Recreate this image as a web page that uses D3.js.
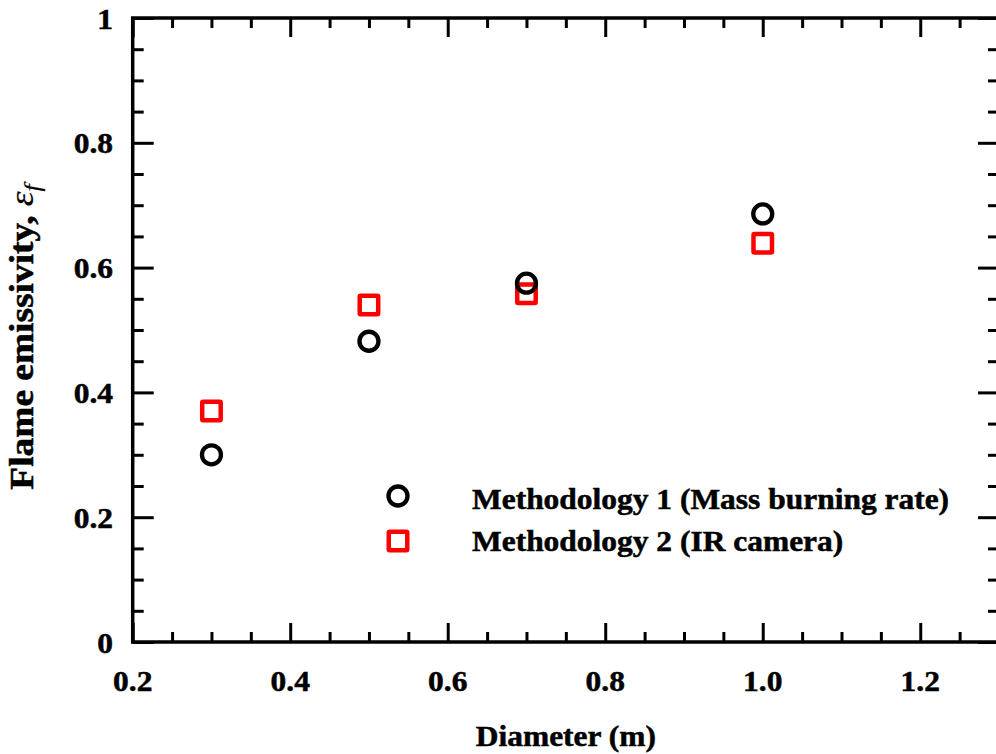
<!DOCTYPE html>
<html>
<head>
<meta charset="utf-8">
<script src="https://cdn.jsdelivr.net/npm/d3@7"></script>
<style>
  html, body { margin: 0; padding: 0; background: #fff; }
  svg { display: block; }
  text { font-family: "Liberation Serif", "Times New Roman", serif; font-weight: bold; fill: #000;
         stroke: #000; stroke-width: 0.5px; }
</style>
</head>
<body>
<svg id="chart" width="996" height="754"></svg>
<script>
// Pool fire diameters (m)
const diameters = [0.3, 0.5, 0.7, 1.0];
// Flame emissivity from the mass burning rate method
const method1 = [0.30, 0.482, 0.575, 0.686];
// Flame emissivity from the IR camera method
const method2 = [0.37, 0.540, 0.558, 0.639];

const seriesNames = ["Methodology 1 (Mass burning rate)", "Methodology 2 (IR camera)"];
const xTickLabels = [0.2, 0.4, 0.6, 0.8, 1.0, 1.2];
const yTickLabels = [0, 0.2, 0.4, 0.6, 0.8, 1];

const plotLeft = 132.7, plotRight = 999, plotTop = 18, plotBottom = 642;
const stretch = 1.085;   // glyphs are set a little wide
const fontPx = 29;

const svg = d3.select("#chart");

const x = d3.scaleLinear().domain([0.2, 1.3]).range([plotLeft, plotRight]);
const y = d3.scaleLinear().domain([0, 1]).range([plotBottom, plotTop]);

const xMinor = d3.range(0.2, 1.3001, 0.05).map(v => +v.toFixed(2));
const yMinor = d3.range(0, 1.0001, 0.05).map(v => +v.toFixed(2));
const isMajor = v => Math.abs(v * 5 - Math.round(v * 5)) < 1e-6;

const axisStroke = 3.5, tickStroke = 3;
const g = svg.append("g");

// Ticks on all four sides, pointing inward
function tickGroup(axis, scale, vals, majorLen, minorLen, transform) {
  const a = axis(scale).tickValues(vals).tickFormat("").tickSizeOuter(0).tickSize(0);
  const gg = g.append("g").attr("transform", transform).call(a);
  gg.select(".domain").remove();
  gg.selectAll(".tick text").remove();
  gg.selectAll(".tick line")
    .attr("stroke", "#000").attr("stroke-width", tickStroke)
    .each(function(d) {
      const len = isMajor(d) ? majorLen : minorLen;
      const sel = d3.select(this);
      if (axis === d3.axisBottom) sel.attr("y1", 0).attr("y2", -len);
      if (axis === d3.axisTop) sel.attr("y1", 0).attr("y2", len);
      if (axis === d3.axisLeft) sel.attr("x1", 0).attr("x2", len);
      if (axis === d3.axisRight) sel.attr("x1", 0).attr("x2", -len);
    });
}
tickGroup(d3.axisBottom, x, xMinor, 19, 10, `translate(0,${plotBottom})`);
tickGroup(d3.axisTop, x, xMinor, 19, 10, `translate(0,${plotTop})`);
tickGroup(d3.axisLeft, y, yMinor, 21, 11, `translate(${plotLeft},0)`);
tickGroup(d3.axisRight, y, yMinor, 21, 11, `translate(${plotRight},0)`);

// Frame
g.append("rect")
  .attr("x", plotLeft).attr("y", plotTop)
  .attr("width", plotRight - plotLeft).attr("height", plotBottom - plotTop)
  .attr("fill", "none").attr("stroke", "#000").attr("stroke-width", axisStroke);

// Tick labels
const fmtX = d3.format(".1f");
g.selectAll(".xlab").data(xTickLabels).join("text")
  .attr("class", "xlab")
  .attr("transform", d => `translate(${x(d)},691) scale(${stretch},1)`)
  .attr("text-anchor", "middle")
  .style("font-size", fontPx + "px")
  .text(d => fmtX(d));

g.selectAll(".ylab").data(yTickLabels).join("text")
  .attr("class", "ylab")
  .attr("transform", d => `translate(113,${y(d) + 10.5}) scale(${stretch},1)`)
  .attr("text-anchor", "end")
  .style("font-size", fontPx + "px")
  .text(d => String(d));

// Axis titles
svg.append("text")
  .attr("transform", `translate(${(plotLeft + plotRight) / 2},746) scale(${stretch},1)`)
  .attr("text-anchor", "middle")
  .style("font-size", fontPx + "px")
  .text("Diameter (m)");

const yt = svg.append("text")
  .attr("transform", `translate(33,337) rotate(-90) scale(1.1,1)`)
  .attr("text-anchor", "middle")
  .style("font-size", "34px");
yt.append("tspan").text("Flame emissivity, ");
yt.append("tspan").style("font-style", "italic").style("font-weight", "normal").style("stroke-width", "0.2px").text("ε");
yt.append("tspan").style("font-style", "italic").style("font-weight", "normal").style("stroke-width", "0.2px")
  .style("font-size", "23px").attr("dy", 7).text("f");

// Data markers
const pts1 = diameters.map((d, i) => ({ x: d, y: method1[i] }));
const pts2 = diameters.map((d, i) => ({ x: d, y: method2[i] }));
const sq = 18.5;

g.selectAll(".m2").data(pts2).join("rect")
  .attr("class", "m2")
  .attr("x", d => x(d.x) - sq / 2).attr("y", d => y(d.y) - sq / 2)
  .attr("width", sq).attr("height", sq).attr("rx", 1)
  .attr("fill", "none").attr("stroke", "#ff0000").attr("stroke-width", 4.5);

g.selectAll(".m1").data(pts1).join("circle")
  .attr("class", "m1")
  .attr("cx", d => x(d.x)).attr("cy", d => y(d.y)).attr("r", 9.5)
  .attr("fill", "none").attr("stroke", "#000").attr("stroke-width", 4.3);

// Legend
const leg = svg.append("g");
leg.append("circle").attr("cx", 398).attr("cy", 496).attr("r", 9.5)
  .attr("fill", "none").attr("stroke", "#000").attr("stroke-width", 4.3);
leg.append("rect").attr("x", 398 - sq / 2).attr("y", 541 - sq / 2)
  .attr("width", sq).attr("height", sq).attr("rx", 1)
  .attr("fill", "none").attr("stroke", "#ff0000").attr("stroke-width", 4.5);
leg.selectAll(".lt").data(seriesNames).join("text")
  .attr("class", "lt")
  .attr("transform", (d, i) => `translate(472,${[508.5, 550.5][i]}) scale(${stretch},1)`)
  .style("font-size", fontPx + "px")
  .text(d => d);
</script>
</body>
</html>
